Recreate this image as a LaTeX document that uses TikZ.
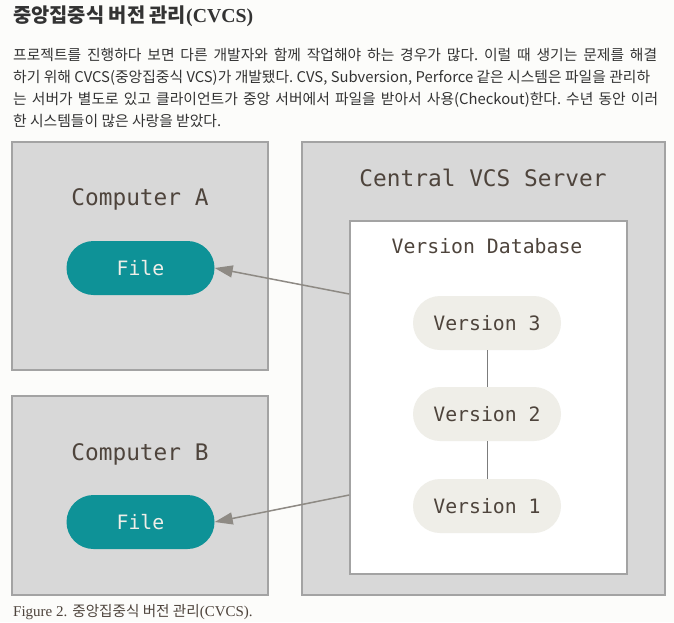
\documentclass[tikz,border=0pt]{standalone}
\usepackage{fontspec,xcolor,tikz}
\usetikzlibrary{arrows.meta,positioning}
\setmainfont{Liberation Serif}
\setmonofont{DejaVu Sans Mono}
\newfontfamily\kr{Noto Sans CJK KR}
\definecolor{page}{HTML}{FCFCFA}
\definecolor{ink}{HTML}{333333}
\definecolor{brown}{HTML}{4E443C}
\definecolor{boxfill}{HTML}{D8D8D8}
\definecolor{boxline}{HTML}{A3A3A3}
\definecolor{teal}{HTML}{0E9297}
\definecolor{pill}{HTML}{EFEEE8}
\definecolor{arrowc}{HTML}{8E8A84}
\definecolor{vline}{HTML}{7C7C7C}
\newcommand{\para}{\kr\frenchspacing\fontsize{14.8}{22}\selectfont}
\newcommand{\boxlbl}{\ttfamily\fontsize{22.8}{26}\selectfont}
\newcommand{\pilllbl}{\ttfamily\fontsize{19.8}{24}\selectfont}
\tikzset{
  machine/.style={draw=boxline,fill=boxfill,line width=1.5pt,inner sep=0},
  dbbox/.style={draw=boxline,fill=white,line width=1.5pt,inner sep=0},
  filepill/.style={fill=teal,text=pill,rounded corners=27pt,minimum width=148pt,minimum height=54pt,font=\pilllbl,inner sep=0},
  verpill/.style={fill=pill,text=brown,rounded corners=27pt,minimum width=148pt,minimum height=54pt,font=\pilllbl,inner sep=0},
  getfile/.style={arrowc,line width=1.5pt,-{Triangle[length=18pt,width=12pt]}},
}
\begin{document}
\begin{tikzpicture}[x=1pt,y=-1pt]
\useasboundingbox[fill=page] (0,0) rectangle (674,622);
% heading and text of the page
\node[anchor=west,inner sep=0,text=ink] (title) at (13,16)
  {{\kr\fontsize{19.8}{22}\selectfont\bfseries 중앙집중식 버전 관리}{\fontsize{19.8}{22}\selectfont\bfseries(CVCS)}};
\node[anchor=west,inner sep=0,text=ink,font=\para] (l1) at (13,55)
  {\makebox[644pt][s]{프로젝트를 진행하다 보면 다른 개발자와 함께 작업해야 하는 경우가 많다. 이럴 때 생기는 문제를 해결}};
\node[anchor=west,inner sep=0,text=ink,font=\para] (l2) at (13,78)
  {\makebox[637pt][s]{하기 위해 CVCS(중앙집중식 VCS)가 개발됐다. CVS, Subversion, Perforce 같은 시스템은 파일을 관리하}};
\node[anchor=west,inner sep=0,text=ink,font=\para] (l3) at (13,100)
  {\makebox[645pt][s]{는 서버가 별도로 있고 클라이언트가 중앙 서버에서 파일을 받아서 사용(Checkout)한다. 수년 동안 이러}};
\node[anchor=west,inner sep=0,text=ink,font=\para] (l4) at (13,121)
  {한 시스템들이 많은 사랑을 받았다.};
% the two computers
\node[machine,minimum width=256pt,minimum height=228pt] (compA) at (140,256) {};
\node[text=brown,font=\boxlbl] (compAlbl) at (140,199) {Computer A};
\node[filepill] (fileA) at (140.5,268) {File};
\node[machine,minimum width=256pt,minimum height=199pt] (compB) at (140,495.5) {};
\node[text=brown,font=\boxlbl] (compBlbl) at (140,454) {Computer B};
\node[filepill] (fileB) at (140.5,522) {File};
% the server
\node[machine,minimum width=363pt,minimum height=453pt] (server) at (483.5,368.5) {};
\node[text=brown,font=\boxlbl] (serverlbl) at (483,178) {Central VCS Server};
\node[dbbox,minimum width=277pt,minimum height=353pt] (db) at (488.5,397.5) {};
\node[text=brown,font=\pilllbl] (dblbl) at (487,246) {Version Database};
\node[verpill] (v3) at (487,323) {Version 3};
\node[verpill] (v2) at (487,414) {Version 2};
\node[verpill] (v1) at (487,506) {Version 1};
\draw[vline,line width=1pt] (v3) -- (v2);
\draw[vline,line width=1pt] (v2) -- (v1);
% checkouts
\coordinate (outA) at (db.west |- 0,294);
\coordinate (outB) at (db.west |- 0,495);
\draw[getfile] (outA) -- (fileA.east);
\draw[getfile] (outB) -- (fileB.east);
% caption
\node[anchor=west,inner sep=0,text=brown] (caption) at (13,612)
  {{\fontsize{15}{18}\selectfont Figure 2. }{\kr\fontsize{14.6}{18}\selectfont 중앙집중식 버전 관리}{\fontsize{15}{18}\selectfont(CVCS).}};
\end{tikzpicture}
\end{document}
